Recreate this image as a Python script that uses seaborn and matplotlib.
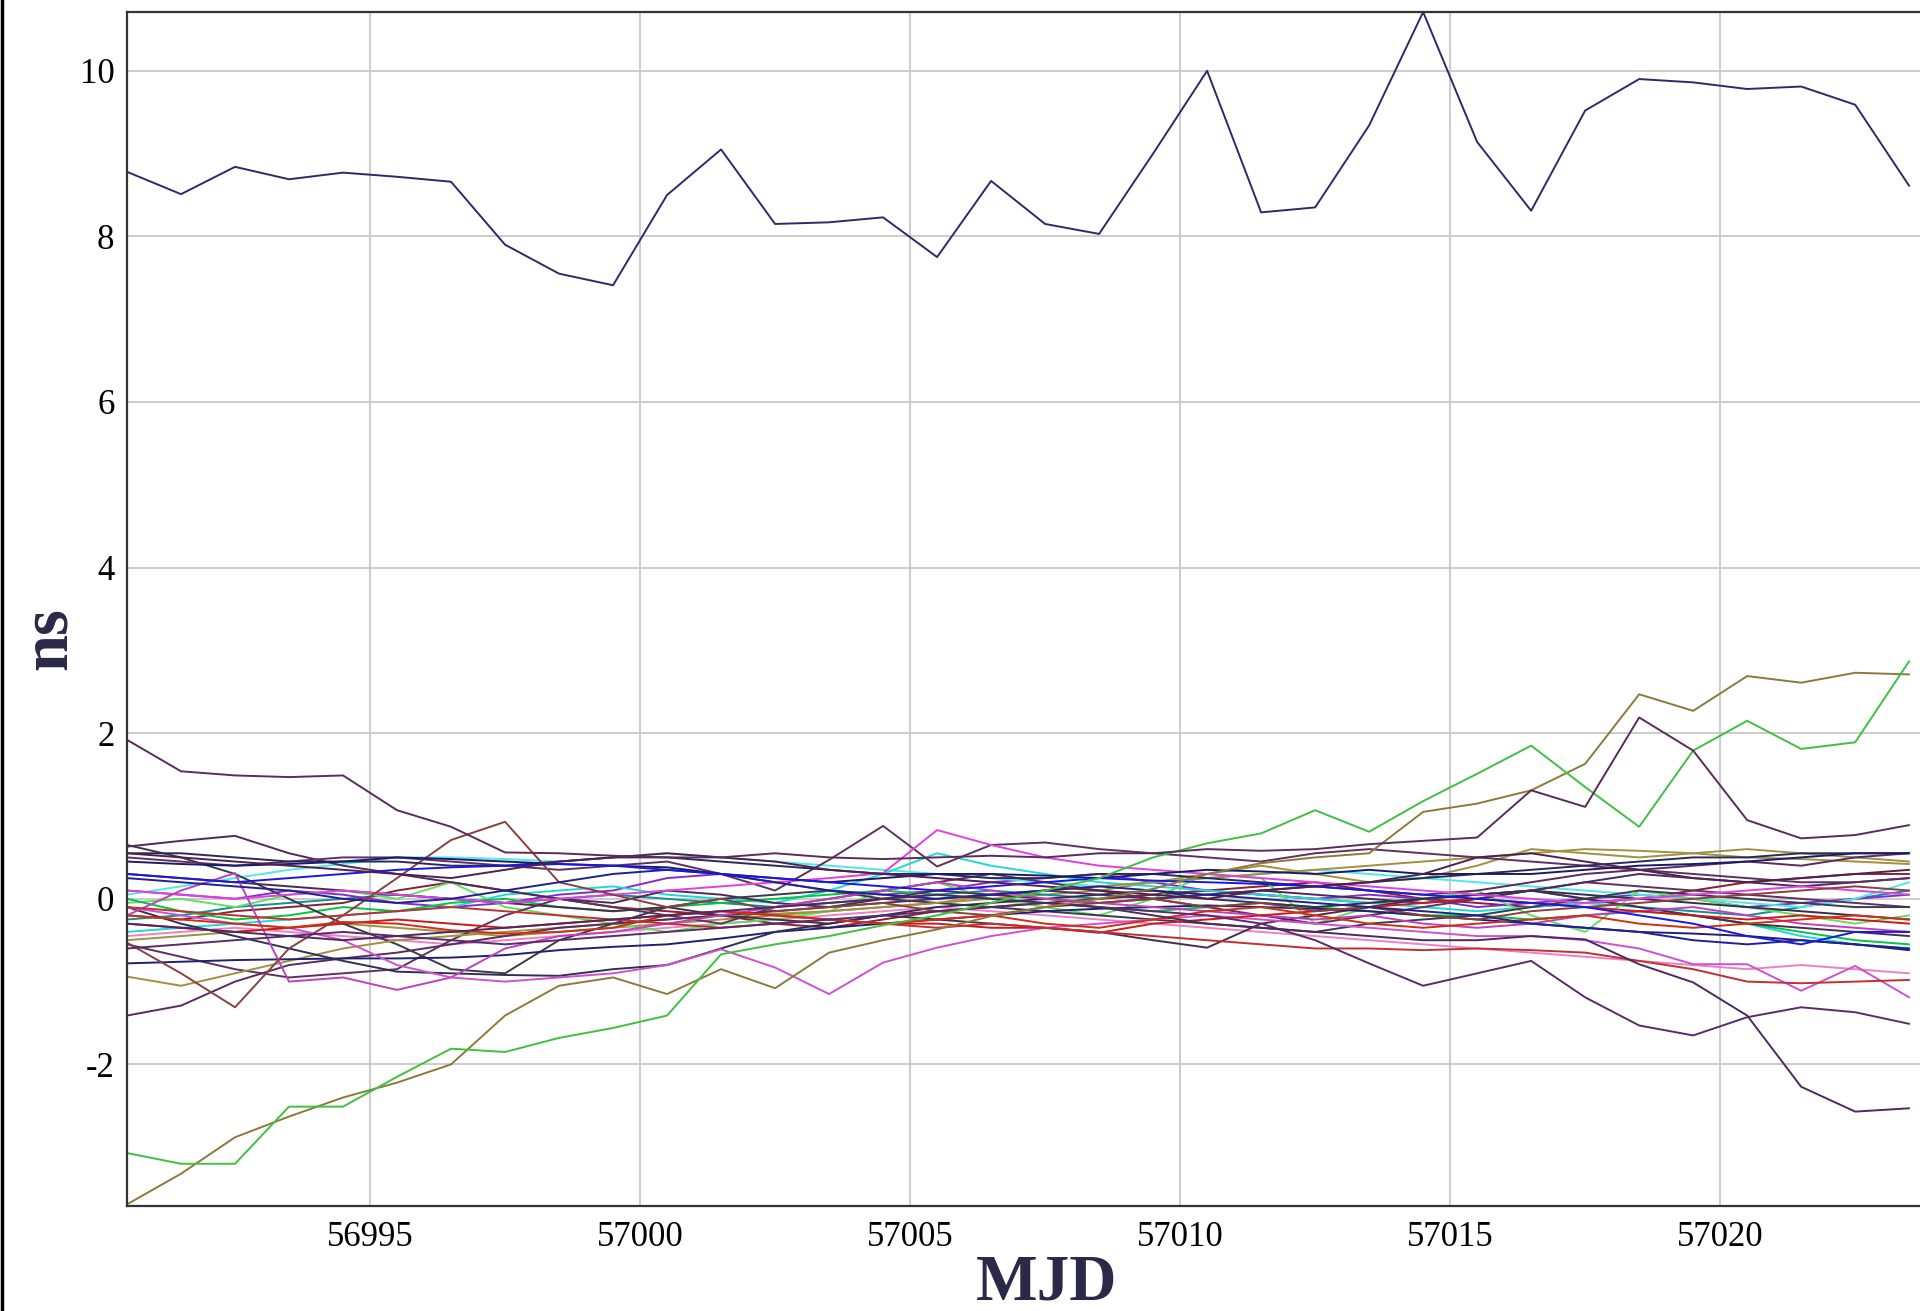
import numpy as np
import pandas as pd
import matplotlib
matplotlib.use("Agg")
import matplotlib.pyplot as plt
from matplotlib.lines import Line2D
import seaborn as sns

# MJD sample epochs (half-day stamps)
mjd = [56990.5 + i for i in range(34)]

# Clock offsets in ns, one list per station
s_top = [8.78, 8.51, 8.84, 8.69, 8.77, 8.72, 8.66, 7.9, 7.55, 7.41, 8.5, 9.05, 8.15, 8.17, 8.23, 7.75, 8.67,
         8.15, 8.03, 9.0, 10.0, 8.29, 8.35, 9.34, 10.71, 9.14, 8.31, 9.52, 9.9, 9.86, 9.78, 9.81, 9.59, 8.61]
s_b = [1.92, 1.54, 1.49, 1.47, 1.49, 1.07, 0.87, 0.56, 0.55, 0.52, 0.5, 0.5, 0.55, 0.5, 0.48, 0.5, 0.52,
       0.5, 0.55, 0.55, 0.6, 0.58, 0.6, 0.66, 0.7, 0.74, 1.31, 1.11, 2.19, 1.79, 0.95, 0.73, 0.77, 0.89]
s_c = [-3.07, -3.2, -3.2, -2.51, -2.51, -2.15, -1.81, -1.85, -1.68, -1.56, -1.41, -0.67, -0.55, -0.45, -0.32,
       -0.2, -0.05, 0.1, 0.25, 0.5, 0.67, 0.79, 1.07, 0.81, 1.18, 1.51, 1.85, 1.35, 0.87, 1.79, 2.15, 1.81, 1.89, 2.87]
s_e = [-3.69, -3.32, -2.88, -2.63, -2.4, -2.22, -2.0, -1.41, -1.05, -0.95, -1.15, -0.85, -1.08, -0.65, -0.5,
       -0.37, -0.21, -0.1, 0.0, 0.12, 0.3, 0.43, 0.5, 0.55, 1.05, 1.15, 1.31, 1.63, 2.47, 2.27, 2.69, 2.61, 2.73, 2.71]
s_f = [-0.3, -0.35, -0.4, -0.45, -0.5, -0.45, -0.4, -0.35, -0.3, -0.25, -0.2, -0.15, -0.1, -0.05, 0.0, 0.05, 0.0,
       -0.05, -0.1, -0.2, -0.3, -0.35, -0.4, -0.45, -0.5, -0.5, -0.45, -0.49, -0.79, -1.01, -1.41, -2.27, -2.57, -2.53]
s_g = [-0.6, -0.55, -0.5, -0.45, -0.4, -0.45, -0.5, -0.55, -0.5, -0.45, -0.4, -0.35, -0.3, -0.25, -0.2, -0.15, -0.1,
       -0.05, -0.1, -0.15, -0.2, -0.3, -0.5, -0.78, -1.05, -0.9, -0.75, -1.19, -1.53, -1.65, -1.43, -1.31, -1.37, -1.51]
s_r1 = [-0.1, -0.15, -0.2, -0.25, -0.2, -0.15, -0.1, -0.15, -0.2, -0.25, -0.3, -0.35, -0.3, -0.25, -0.3, -0.35, -0.3,
        -0.35, -0.4, -0.45, -0.5, -0.55, -0.6, -0.6, -0.62, -0.6, -0.62, -0.65, -0.75, -0.85, -1.0, -1.02, -1.0, -0.98]
s_l = [-0.53, -0.9, -1.31, -0.6, -0.2, 0.25, 0.71, 0.93, 0.2, 0.05, -0.1, 0.0, -0.15, -0.1, -0.05, -0.15, -0.2,
       -0.1, -0.05, 0.0, -0.1, -0.05, -0.15, -0.1, -0.2, -0.25, -0.15, -0.1, -0.05, 0.0, 0.05, 0.1, 0.15, 0.1]
s_m = [0.63, 0.7, 0.76, 0.55, 0.4, 0.3, 0.2, 0.1, 0.0, -0.05, 0.1, 0.05, -0.05, -0.1, 0.0, 0.1, 0.05, 0.0, -0.05,
       0.0, 0.05, 0.1, 0.05, 0.0, -0.05, 0.0, 0.1, 0.2, 0.3, 0.25, 0.2, 0.15, 0.2, 0.25]
s_n = [-0.1, -0.3, -0.45, -0.6, -0.75, -0.88, -0.9, -0.92, -0.93, -0.85, -0.8, -0.6, -0.4, -0.3, -0.2, -0.1, -0.05,
       0.0, 0.05, 0.1, 0.0, -0.05, -0.1, -0.05, 0.0, 0.05, 0.1, 0.05, 0.0, -0.05, -0.1, -0.15, -0.2, -0.25]
s_p = [-0.78, -0.76, -0.74, -0.73, -0.72, -0.72, -0.71, -0.68, -0.62, -0.58, -0.55, -0.48, -0.4, -0.35, -0.3, -0.25,
       -0.2, -0.15, -0.12, -0.1, -0.08, -0.1, -0.12, -0.15, -0.2, -0.25, -0.3, -0.35, -0.4, -0.42, -0.45, -0.5, -0.55, -0.62]
s_q = [-1.41, -1.29, -1.0, -0.8, -0.72, -0.65, -0.55, -0.45, -0.35, -0.3, -0.25, -0.2, -0.15, -0.1, -0.05, 0.0, 0.05,
       0.1, 0.05, 0.0, 0.05, 0.1, 0.15, 0.1, 0.05, 0.1, 0.2, 0.3, 0.35, 0.4, 0.45, 0.4, 0.5, 0.55]
s_r = [-0.94, -1.05, -0.9, -0.75, -0.6, -0.5, -0.45, -0.4, -0.35, -0.3, -0.25, -0.2, -0.18, -0.15, -0.1, -0.05, 0.05,
       0.1, 0.15, 0.2, 0.25, 0.3, 0.35, 0.4, 0.45, 0.5, 0.55, 0.6, 0.58, 0.55, 0.5, 0.48, 0.45, 0.42]
s_s = [-0.2, 0.1, 0.31, -1.0, -0.95, -1.1, -0.95, -0.6, -0.45, -0.4, -0.3, -0.2, -0.1, 0.0, 0.1, 0.2, 0.1, 0.0,
       -0.05, -0.1, -0.15, -0.2, -0.25, -0.2, -0.3, -0.35, -0.3, -0.2, -0.15, -0.1, -0.2, -0.3, -0.35, -0.4]
s_i = [-0.1, -0.2, -0.3, -0.35, -0.5, -0.8, -0.95, -1.0, -0.95, -0.9, -0.8, -0.61, -0.83, -1.15, -0.77, -0.59, -0.45,
       -0.35, -0.3, -0.25, -0.2, -0.25, -0.3, -0.35, -0.4, -0.45, -0.45, -0.5, -0.6, -0.79, -0.79, -1.11, -0.81, -1.19]
s_k = [0.1, 0.05, 0.0, 0.05, 0.1, 0.05, 0.0, -0.05, 0.0, 0.05, 0.1, 0.15, 0.2, 0.25, 0.31, 0.83, 0.65, 0.5, 0.4,
       0.35, 0.3, 0.25, 0.2, 0.15, 0.1, 0.05, 0.0, -0.05, 0.0, 0.05, 0.1, 0.15, 0.1, 0.05]
s_j = [0.5, 0.45, 0.4, 0.45, 0.5, 0.5, 0.45, 0.4, 0.35, 0.4, 0.45, 0.3, 0.1, 0.47, 0.88, 0.39, 0.65, 0.68, 0.6,
       0.55, 0.5, 0.45, 0.55, 0.6, 0.55, 0.5, 0.45, 0.4, 0.35, 0.3, 0.25, 0.2, 0.2, 0.25]
s_o = [0.3, 0.25, 0.2, 0.15, 0.1, 0.05, 0.0, -0.05, -0.1, -0.15, -0.1, -0.2, -0.25, -0.3, -0.2, -0.25, -0.3, -0.35,
       -0.4, -0.5, -0.59, -0.3, -0.2, -0.1, 0.0, 0.05, 0.1, 0.0, -0.1, -0.2, -0.3, -0.35, -0.4, -0.45]
s_red = [-0.3, -0.35, -0.4, -0.35, -0.3, -0.25, -0.3, -0.35, -0.3, -0.25, -0.2, -0.15, -0.2, -0.25, -0.3, -0.3, -0.35,
         -0.35, -0.41, -0.3, -0.25, -0.2, -0.15, -0.1, -0.05, 0.0, -0.05, -0.1, -0.15, -0.2, -0.25, -0.2, -0.25, -0.3]
s_orange = [-0.2, -0.25, -0.3, -0.35, -0.28, -0.3, -0.38, -0.42, -0.4, -0.35, -0.2, -0.15, -0.2, -0.25, -0.3, -0.25,
            -0.2, -0.3, -0.35, -0.25, -0.15, -0.1, -0.2, -0.3, -0.35, -0.3, -0.25, -0.2, -0.3, -0.35, -0.3, -0.25, -0.2, -0.25]
s_cyan = [-0.4, -0.35, -0.3, -0.25, -0.2, -0.15, -0.1, 0.05, 0.1, 0.15, 0.05, 0.0, -0.05, 0.1, 0.3, 0.55, 0.4, 0.3,
          0.2, 0.15, 0.1, 0.05, 0.0, -0.05, -0.1, -0.15, -0.1, -0.05, -0.1, -0.2, -0.3, -0.45, -0.55, -0.6]
s_cyan2 = [0.05, 0.15, 0.25, 0.35, 0.42, 0.5, 0.5, 0.48, 0.45, 0.5, 0.55, 0.5, 0.45, 0.4, 0.35, 0.3, 0.25, 0.2,
           0.15, 0.2, 0.25, 0.3, 0.35, 0.3, 0.25, 0.2, 0.15, 0.1, 0.05, 0.0, -0.05, -0.1, 0.0, 0.2]
s_green = [0.0, -0.15, -0.25, -0.2, -0.1, -0.15, -0.05, 0.0, -0.1, -0.15, -0.1, -0.05, 0.0, 0.05, 0.1, 0.05, 0.0,
           -0.05, -0.1, -0.15, -0.1, -0.05, -0.1, -0.15, -0.2, -0.2, -0.25, -0.2, -0.15, -0.2, -0.3, -0.4, -0.5, -0.55]
s_green2 = [-0.05, 0.0, -0.1, 0.05, 0.1, 0.0, 0.2, -0.1, -0.2, -0.3, -0.4, -0.3, -0.25, -0.15, 0.1, 0.2, 0.0, -0.1,
            -0.2, 0.0, 0.3, 0.25, -0.3, -0.1, 0.0, 0.1, -0.2, -0.4, 0.1, 0.0, -0.1, -0.2, -0.3, -0.2]
s_blue = [0.3, 0.25, 0.2, 0.25, 0.3, 0.35, 0.38, 0.4, 0.42, 0.4, 0.35, 0.3, 0.25, 0.2, 0.15, 0.1, 0.15, 0.2, 0.25,
          0.22, 0.2, 0.18, 0.15, 0.1, 0.05, 0.0, -0.05, -0.1, -0.2, -0.3, -0.45, -0.55, -0.4, -0.4]
s_navy = [0.45, 0.42, 0.4, 0.42, 0.45, 0.5, 0.48, 0.45, 0.42, 0.4, 0.38, 0.3, 0.25, 0.2, 0.25, 0.3, 0.3, 0.28, 0.25,
          0.3, 0.35, 0.33, 0.3, 0.35, 0.3, 0.3, 0.3, 0.35, 0.4, 0.42, 0.45, 0.5, 0.55, 0.55]
s_navy2 = [0.25, 0.2, 0.15, 0.1, 0.0, -0.05, 0.0, 0.1, 0.2, 0.3, 0.35, 0.3, 0.2, 0.1, 0.05, 0.0, 0.05, 0.1, 0.15,
           0.1, 0.05, 0.0, -0.05, -0.1, -0.15, -0.2, -0.3, -0.35, -0.4, -0.5, -0.55, -0.5, -0.55, -0.6]
s_dp2 = [0.55, 0.5, 0.45, 0.4, 0.35, 0.3, 0.25, 0.35, 0.45, 0.5, 0.55, 0.5, 0.45, 0.35, 0.3, 0.25, 0.2, 0.15, 0.1,
         0.05, 0.0, 0.1, 0.15, 0.2, 0.3, 0.5, 0.55, 0.45, 0.35, 0.25, 0.2, 0.25, 0.3, 0.35]
s_violet = [0.1, 0.05, 0.0, 0.1, 0.05, -0.05, -0.1, -0.05, 0.05, 0.1, 0.25, 0.3, 0.2, 0.1, 0.05, 0.1, 0.2, 0.25,
            0.3, 0.2, 0.1, 0.05, 0.0, 0.05, 0.0, -0.1, -0.05, 0.0, 0.05, 0.0, -0.1, -0.05, 0.0, 0.05]
s_maroon = [-0.2, -0.25, -0.15, -0.1, -0.05, 0.1, 0.2, 0.1, 0.0, -0.1, -0.15, -0.2, -0.3, -0.35, -0.25, -0.15, -0.1,
            -0.05, 0.0, 0.05, 0.1, 0.15, 0.2, 0.1, 0.0, -0.05, -0.1, -0.05, 0.0, 0.1, 0.2, 0.25, 0.3, 0.3]
s_teal = [-0.25, -0.2, -0.1, -0.05, 0.0, 0.05, 0.0, -0.05, 0.0, 0.05, 0.0, -0.05, -0.1, -0.05, 0.0, 0.05, 0.1, 0.05,
          0.0, 0.05, 0.1, 0.05, 0.0, -0.05, 0.0, 0.05, 0.1, 0.0, -0.1, -0.15, -0.2, -0.1, 0.0, 0.1]
s_t = [0.65, 0.5, 0.3, 0.0, -0.3, -0.55, -0.85, -0.9, -0.5, -0.3, -0.1, 0.0, 0.05, 0.1, 0.0, -0.05, -0.1, -0.15,
       -0.2, -0.25, -0.3, -0.35, -0.4, -0.3, -0.25, -0.2, -0.1, 0.0, 0.1, 0.05, 0.0, -0.05, -0.1, -0.1]
s_u = [-0.55, -0.7, -0.85, -0.95, -0.9, -0.85, -0.5, -0.2, 0.0, -0.1, -0.2, -0.3, -0.1, 0.0, 0.1, 0.2, 0.3, 0.2,
       0.1, 0.0, -0.1, -0.2, -0.3, -0.2, -0.1, 0.0, 0.1, 0.2, 0.15, 0.1, 0.05, 0.0, -0.05, -0.1]
s_pink = [-0.45, -0.4, -0.35, -0.4, -0.45, -0.5, -0.55, -0.5, -0.45, -0.4, -0.35, -0.3, -0.25, -0.2, -0.15, -0.1,
          -0.15, -0.2, -0.25, -0.3, -0.35, -0.4, -0.45, -0.5, -0.55, -0.6, -0.65, -0.7, -0.75, -0.8, -0.85, -0.8, -0.85, -0.9]
s_olive2 = [-0.5, -0.45, -0.4, -0.35, -0.3, -0.35, -0.4, -0.45, -0.4, -0.35, -0.3, -0.25, -0.2, -0.15, -0.1, -0.05,
            0.0, 0.05, 0.1, 0.2, 0.3, 0.4, 0.3, 0.2, 0.25, 0.4, 0.6, 0.55, 0.5, 0.55, 0.6, 0.55, 0.5, 0.45]
s_navy3 = [0.55, 0.55, 0.5, 0.45, 0.45, 0.45, 0.4, 0.4, 0.45, 0.5, 0.5, 0.45, 0.4, 0.35, 0.3, 0.3, 0.25, 0.25, 0.3,
           0.3, 0.25, 0.2, 0.15, 0.2, 0.25, 0.3, 0.35, 0.4, 0.45, 0.5, 0.5, 0.55, 0.55, 0.55]

series = {
    "olive2": (s_olive2, "#a09040"), "pink": (s_pink, "#ee80c8"), "teal": (s_teal, "#109090"),
    "maroon": (s_maroon, "#8a2030"), "violet": (s_violet, "#8030c8"), "cyan2": (s_cyan2, "#50e8e8"),
    "cyan": (s_cyan, "#20d8d8"), "green2": (s_green2, "#60e060"), "green": (s_green, "#00c840"),
    "u": (s_u, "#603060"), "t": (s_t, "#3a3a4a"), "o": (s_o, "#4b2b4b"), "r": (s_r, "#a09040"),
    "q": (s_q, "#5a2a60"), "p": (s_p, "#202070"), "n": (s_n, "#303050"), "m": (s_m, "#4b2b5b"),
    "j": (s_j, "#603060"), "k": (s_k, "#e040e0"), "s": (s_s, "#c040c0"), "i": (s_i, "#d050d0"),
    "red": (s_red, "#d01818"), "orange": (s_orange, "#d03010"), "l": (s_l, "#8b4040"),
    "r1": (s_r1, "#c03030"), "navy2": (s_navy2, "#202090"), "navy3": (s_navy3, "#2a2a5a"),
    "navy": (s_navy, "#1a1a6a"), "blue": (s_blue, "#1818e0"), "dp2": (s_dp2, "#502050"),
    "g": (s_g, "#5a2a6a"), "f": (s_f, "#502860"), "e": (s_e, "#8b7a3a"), "c": (s_c, "#40c040"),
    "b": (s_b, "#5b2b5b"), "top": (s_top, "#2b2b6b"),
}

frames = []
for name, (vals, _) in series.items():
    frames.append(pd.DataFrame({"MJD": mjd, "ns": vals, "station": name}))
df = pd.concat(frames, ignore_index=True)
palette = {name: col for name, (_, col) in series.items()}

sns.set_theme(style="white")
plt.rcParams["font.family"] = ["Liberation Serif", "DejaVu Serif"]
plt.rcParams["axes.unicode_minus"] = False

W, H = 1920, 1311
fig = plt.figure(figsize=(W / 100, H / 100), dpi=100)
ax = fig.add_axes([127 / W, (H - 1206) / H, (W - 127) / W, (1206 - 12) / H])

sns.lineplot(data=df, x="MJD", y="ns", hue="station", palette=palette, estimator=None,
             sort=False, legend=False, linewidth=1.4, ax=ax)

ax.set_xlim(56990.5, 57023.7)
ax.set_ylim(-3.71, 10.71)
ax.set_xticks([56995, 57000, 57005, 57010, 57015, 57020])
ax.set_yticks([-2, 0, 2, 4, 6, 8, 10])
ax.grid(True, color="#c8c8c8", linewidth=1.3)
ax.set_axisbelow(True)
ax.tick_params(axis="both", length=0, labelsize=25, colors="black")
ax.tick_params(axis="y", pad=9)
ax.tick_params(axis="x", pad=11)
ax.set_xlabel("")
ax.set_ylabel("")
for side in ["left", "bottom", "top"]:
    ax.spines[side].set_color("#333333")
    ax.spines[side].set_linewidth(1.6)
ax.spines["right"].set_visible(False)

fig.text(1047 / W, 1 - 1300 / H, "MJD", ha="center", va="baseline", fontsize=47,
         fontweight="bold", color="#2a2a48")
fig.text(49 / W, 1 - 639 / H, "ns", ha="center", va="center", rotation=90, fontsize=48,
         fontweight="bold", color="#2a2a48")

fig.add_artist(Line2D([0.0012, 0.0012], [0, 1], transform=fig.transFigure, color="black", linewidth=2.5))

fig.savefig("out.png", dpi=100)
